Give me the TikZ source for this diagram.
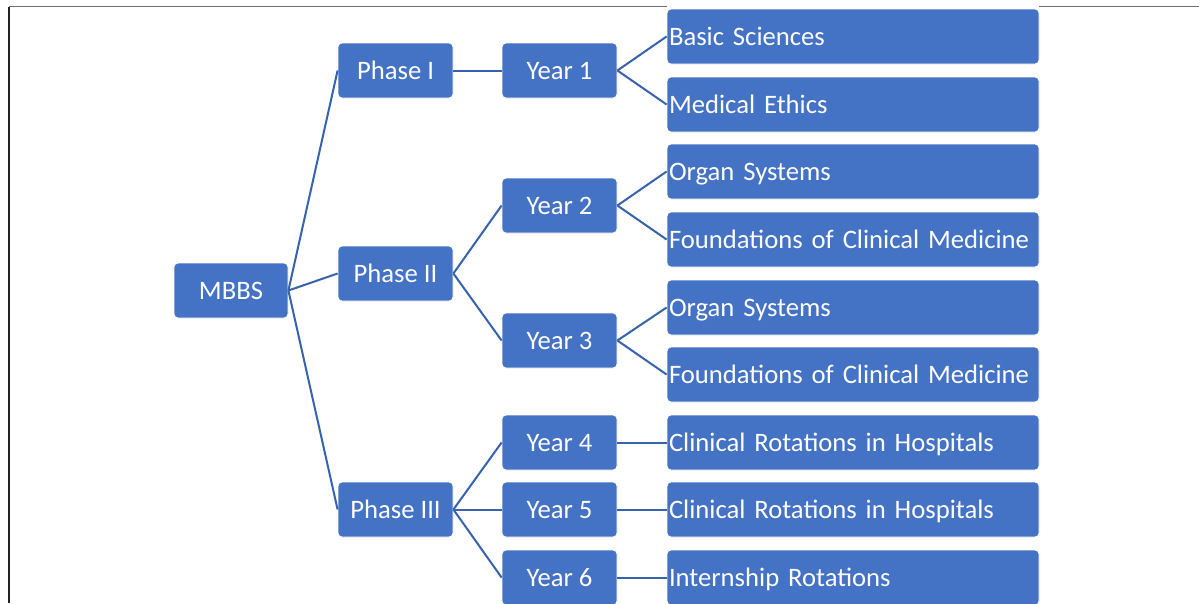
\documentclass[tikz,border=0pt]{standalone}
\usepackage{fontspec}
\setmainfont{Carlito}
\newcommand{\boxfont}{\fontsize{26.67}{32}\selectfont\spaceskip=6pt plus 1pt minus 1pt\relax}
\definecolor{boxblue}{HTML}{4472C4}
\definecolor{lineblue}{HTML}{3762AE}
\definecolor{framedark}{HTML}{222222}
\definecolor{framegray}{HTML}{707070}
\tikzset{
  box/.style={fill=boxblue, draw=white, line width=0.8pt, rounded corners=4pt, text=white,
    font=\boxfont, inner sep=0pt, text height=20pt, text depth=2.8pt},
  ctr/.style={box, minimum width=115pt, minimum height=55pt, align=center},
  leaf/.style={box, minimum width=372pt, minimum height=55pt, text width=368pt, inner xsep=2pt, align=left},
  conn/.style={draw=lineblue, line width=2pt},
}
\begin{document}
\begin{tikzpicture}[x=1pt,y=-1pt]
\useasboundingbox (0,0) rectangle (1199,603);
\clip (0,0) rectangle (1199,603);
\fill[white] (0,0) rectangle (1199,603);

\node[ctr, minimum width=114pt] (mbbs) at (231,290.5) {MBBS};
\node[ctr] (p1) at (395.5,70.5) {Phase I};
\node[ctr] (p2) at (395.5,273.5) {Phase II};
\node[ctr] (p3) at (395.5,509.5) {Phase III};

\node[ctr] (y1) at (559.5,70.5) {Year 1};
\node[ctr] (y2) at (559.5,205.5) {Year 2};
\node[ctr] (y3) at (559.5,340.5) {Year 3};
\node[ctr] (y4) at (559.5,442.5) {Year 4};
\node[ctr] (y5) at (559.5,509.5) {Year 5};
\node[ctr] (y6) at (559.5,577.5) {Year 6};

\node[leaf] (l1) at (853,36.5) {Basic Sciences};
\node[leaf] (l2) at (853,104.5) {Medical Ethics};
\node[leaf] (l3) at (853,171.5) {Organ Systems};
\node[leaf] (l4) at (853,239.5) {Foundations of Clinical Medicine};
\node[leaf] (l5) at (853,307.5) {Organ Systems};
\node[leaf] (l6) at (853,374.5) {Foundations of Clinical Medicine};
\node[leaf] (l7) at (853,442.5) {Clinical Rotations in Hospitals};
\node[leaf] (l8) at (853,509.5) {Clinical Rotations in Hospitals};
\node[leaf] (l9) at (853,577.5) {Internship Rotations};

\foreach \p in {p1,p2,p3} \draw[conn] (mbbs.east) -- (\p.west);
\draw[conn] (p1.east) -- (y1.west);
\draw[conn] (p2.east) -- (y2.west);
\draw[conn] (p2.east) -- (y3.west);
\foreach \y in {y4,y5,y6} \draw[conn] (p3.east) -- (\y.west);
\draw[conn] (y1.east) -- (l1.west);
\draw[conn] (y1.east) -- (l2.west);
\draw[conn] (y2.east) -- (l3.west);
\draw[conn] (y2.east) -- (l4.west);
\draw[conn] (y3.east) -- (l5.west);
\draw[conn] (y3.east) -- (l6.west);
\draw[conn] (y4.east) -- (l7.west);
\draw[conn] (y5.east) -- (l8.west);
\draw[conn] (y6.east) -- (l9.west);

\coordinate (ftl) at (9,6.5);
\coordinate (fbl) at (9,603);
\coordinate (ftr) at (1199,6.5);
\draw[framedark, line width=2pt] (ftl) -- (fbl);
\draw[framegray, line width=1.5pt] (ftl) -- (l1.west |- ftl);
\draw[framegray, line width=1.5pt] (l1.east |- ftr) -- (ftr);
\end{tikzpicture}
\end{document}
